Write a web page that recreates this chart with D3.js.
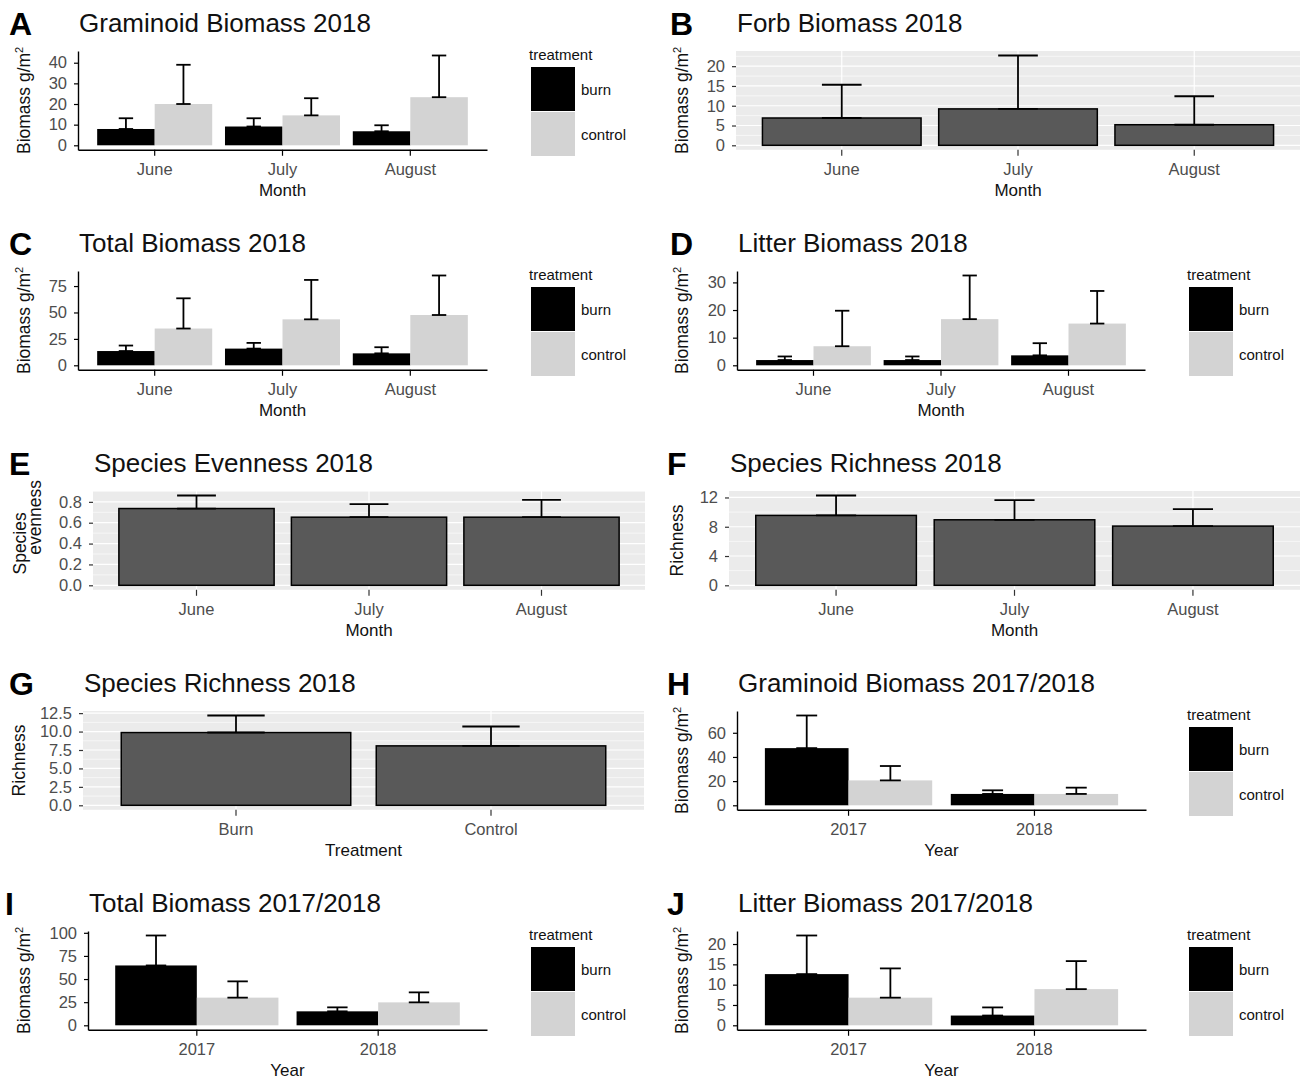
<!DOCTYPE html>
<html lang="en">
<head>
<meta charset="UTF-8" />
<title>Biomass and diversity 2017/2018</title>
<script src="https://d3js.org/d3.v7.min.js"></script>
<style>
  body { margin: 0; background: #fff; }
  svg text { font-family: "Liberation Sans", Arial, sans-serif; }
</style>
</head>
<body>
<svg width="1302" height="1080"></svg>
<script>
// categories
var months = ["June", "July", "August"];
var years = ["2017", "2018"];
var treatCats = ["Burn", "Control"];
var legendNames = ["burn", "control"];

// A - graminoid biomass 2018 (mean, se)
var gramBurn = [7.9, 9.1, 6.8], gramBurnSe = [5.2, 4.0, 2.9];
var gramCtrl = [20.0, 14.5, 23.3], gramCtrlSe = [19.0, 8.3, 20.2];
// B - forb biomass 2018
var forb = [6.9, 9.2, 5.2], forbSe = [8.4, 13.5, 7.2];
// C - total biomass 2018
var totBurn = [13.5, 15.8, 11.3], totBurnSe = [5.2, 5.4, 5.8];
var totCtrl = [34.8, 43.5, 47.6], totCtrlSe = [28.6, 37.3, 37.4];
// D - litter biomass 2018
var litBurn = [1.9, 1.9, 3.6], litBurnSe = [1.3, 1.3, 4.4];
var litCtrl = [6.9, 16.7, 15.1], litCtrlSe = [12.85, 15.8, 11.8];
// E - evenness by month
var even = [0.736, 0.653, 0.653], evenSe = [0.125, 0.125, 0.166];
// F - richness by month
var rich = [9.55, 8.95, 8.09], richSe = [2.72, 2.69, 2.32];
// G - richness by treatment
var richTr = [9.87, 8.06], richTrSe = [2.31, 2.63];
// H - graminoid biomass by year
var gramYrBurn = [47.3, 9.4], gramYrBurnSe = [27.0, 3.0];
var gramYrCtrl = [20.6, 9.4], gramYrCtrlSe = [11.9, 5.2];
// I - total biomass by year
var totYrBurn = [64.7, 15.1], totYrBurnSe = [32.4, 4.3];
var totYrCtrl = [29.9, 24.8], totYrCtrlSe = [17.6, 10.8];
// J - litter biomass by year
var litYrBurn = [12.6, 2.4], litYrBurnSe = [9.5, 2.0];
var litYrCtrl = [6.8, 8.9], litYrCtrlSe = [7.2, 6.9];

// tick values
var ticksA = [0, 10, 20, 30, 40];
var ticksB = [0, 5, 10, 15, 20];
var ticksC = [0, 25, 50, 75];
var ticksD = [0, 10, 20, 30];
var ticksE = [0, 0.2, 0.4, 0.6, 0.8];
var ticksF = [0, 4, 8, 12];
var ticksG = [0, 2.5, 5, 7.5, 10, 12.5];
var ticksH = [0, 20, 40, 60];
var ticksI = [0, 25, 50, 75, 100];
var ticksJ = [0, 5, 10, 15, 20];

var BURN = "#000000", CTRL = "#d3d3d3", DARK = "#595959";
var svg = d3.select("svg");

function panel(p) {
  var g = svg.append("g").attr("transform", "translate(0," + p.row + ")");
  var top = 51, zeroY = 145.3;
  var maxV = d3.max(p.series, function (s) {
    return d3.max(s.mean, function (m, i) { return m + s.se[i]; });
  });
  var y = d3.scaleLinear().domain([0, 1.05 * maxV]).range([zeroY, top]);
  var bottom = y(-0.05 * maxV);
  y.domain([-0.05 * maxV, 1.05 * maxV]).range([bottom, top]);

  var x = d3.scaleBand().domain(p.cats).range([p.left, p.right])
    .paddingInner(0.1).paddingOuter(0.15);
  var sub = d3.scaleBand().domain(d3.range(p.series.length)).range([0, x.bandwidth()]);
  var gray = p.theme == "gray";

  if (gray) {
    g.append("rect").attr("x", p.left).attr("y", top)
      .attr("width", p.right - p.left).attr("height", bottom - top)
      .attr("fill", "#ebebeb");
    var step = p.ticks[1] - p.ticks[0];
    var minors = [];
    for (var v = p.ticks[0] - step / 2; v <= y.domain()[1]; v += step) {
      if (v >= y.domain()[0]) minors.push(v);
    }
    g.selectAll(".minor").data(minors).join("line")
      .attr("x1", p.left).attr("x2", p.right)
      .attr("y1", function (d) { return y(d); }).attr("y2", function (d) { return y(d); })
      .attr("stroke", "#fff").attr("stroke-width", 0.6);
    g.selectAll(".major").data(p.ticks).join("line")
      .attr("x1", p.left).attr("x2", p.right)
      .attr("y1", function (d) { return y(d); }).attr("y2", function (d) { return y(d); })
      .attr("stroke", "#fff").attr("stroke-width", 1.2);
    g.selectAll(".vmajor").data(p.cats).join("line")
      .attr("x1", function (d) { return x(d) + x.bandwidth() / 2; })
      .attr("x2", function (d) { return x(d) + x.bandwidth() / 2; })
      .attr("y1", top).attr("y2", bottom)
      .attr("stroke", "#fff").attr("stroke-width", 1.2);
  }

  // bars
  p.series.forEach(function (s, si) {
    g.append("g").selectAll("rect").data(s.mean).join("rect")
      .attr("x", function (d, i) { return x(p.cats[i]) + sub(si); })
      .attr("y", function (d) { return y(d); })
      .attr("width", sub.bandwidth())
      .attr("height", function (d) { return y(0) - y(d); })
      .attr("fill", s.fill)
      .attr("stroke", gray ? "#000" : "none")
      .attr("stroke-width", gray ? 1.5 : 0);
  });

  // error bars (mean to mean + se)
  var capW = sub.bandwidth() * 0.25;
  p.series.forEach(function (s, si) {
    var eg = g.append("g").attr("stroke", "#000").attr("stroke-width", 1.8).attr("fill", "none");
    s.mean.forEach(function (m, i) {
      var cx = x(p.cats[i]) + sub(si) + sub.bandwidth() / 2;
      var y0 = y(m), y1 = y(m + s.se[i]);
      eg.append("line").attr("x1", cx).attr("x2", cx).attr("y1", y0).attr("y2", y1);
      eg.append("line").attr("x1", cx - capW / 2).attr("x2", cx + capW / 2).attr("y1", y1).attr("y2", y1);
      eg.append("line").attr("x1", cx - capW / 2).attr("x2", cx + capW / 2).attr("y1", y0).attr("y2", y0);
    });
  });

  // axes
  var ya = g.append("g").attr("transform", "translate(" + p.left + ",0)")
    .call(d3.axisLeft(y).tickValues(p.ticks).tickFormat(p.fmt || d3.format("d"))
      .tickSize(4).tickSizeOuter(0).tickPadding(7));
  var xa = g.append("g").attr("transform", "translate(0," + bottom + ")")
    .call(d3.axisBottom(x).tickSize(6).tickSizeOuter(0).tickPadding(8));
  [ya, xa].forEach(function (a) {
    a.selectAll("text").attr("font-size", 16.5).attr("fill", "#4d4d4d")
      .attr("font-family", "Liberation Sans, Arial, sans-serif");
    a.selectAll(".tick line").attr("stroke", gray ? "#333" : "#000").attr("stroke-width", 1.2);
    if (gray) a.select(".domain").remove();
    else a.select(".domain").attr("stroke", "#000").attr("stroke-width", 1.4);
  });

  // axis titles
  g.append("text").attr("x", (p.left + p.right) / 2).attr("y", 196)
    .attr("text-anchor", "middle").attr("font-size", 17).attr("fill", "#111")
    .text(p.xtitle);
  var cy = (top + bottom) / 2;
  p.ytitle.forEach(function (line) {
    var t = g.append("text")
      .attr("transform", "translate(" + line.x + "," + (cy + (line.dy || 0)) + ") rotate(-90)")
      .attr("text-anchor", "middle").attr("font-size", 17.5).attr("fill", "#111")
      .text(line.text);
    if (line.sup) t.append("tspan").attr("dy", -7).attr("font-size", 11).text(line.sup);
  });

  // letter and title
  g.append("text").attr("x", p.letterX).attr("y", 35).attr("font-size", 32)
    .attr("font-weight", "bold").attr("fill", "#000").text(p.letter);
  g.append("text").attr("x", p.left + 1).attr("y", 32).attr("font-size", 26)
    .attr("fill", "#111").text(p.title);

  // legend
  if (p.legend) {
    var lg = g.append("g").attr("transform", "translate(" + p.legend + ",0)");
    lg.append("text").attr("x", 0).attr("y", 60).attr("font-size", 15)
      .attr("fill", "#111").text("treatment");
    p.series.forEach(function (s, si) {
      lg.append("rect").attr("x", 2).attr("y", 67 + si * 45)
        .attr("width", 44).attr("height", 44).attr("fill", s.fill);
      lg.append("text").attr("x", 52).attr("y", 67 + si * 45 + 28)
        .attr("font-size", 15).attr("fill", "#111").text(legendNames[si]);
    });
  }
}

var bioTitle = function (x) { return [{ x: x, text: "Biomass g/m", sup: "2" }]; };
function two(bm, bs, cm, cs) {
  return [{ mean: bm, se: bs, fill: BURN }, { mean: cm, se: cs, fill: CTRL }];
}

panel({ row: 0, left: 78, right: 487, letter: "A", letterX: 9, title: "Graminoid Biomass 2018",
  cats: months, series: two(gramBurn, gramBurnSe, gramCtrl, gramCtrlSe), ticks: ticksA,
  theme: "classic", xtitle: "Month", ytitle: bioTitle(30), legend: 529 });
panel({ row: 0, left: 736, right: 1300, letter: "B", letterX: 670, title: "Forb Biomass 2018",
  cats: months, series: [{ mean: forb, se: forbSe, fill: DARK }], ticks: ticksB,
  theme: "gray", xtitle: "Month", ytitle: bioTitle(688) });
panel({ row: 220, left: 78, right: 487, letter: "C", letterX: 9, title: "Total Biomass 2018",
  cats: months, series: two(totBurn, totBurnSe, totCtrl, totCtrlSe), ticks: ticksC,
  theme: "classic", xtitle: "Month", ytitle: bioTitle(30), legend: 529 });
panel({ row: 220, left: 737, right: 1145, letter: "D", letterX: 670, title: "Litter Biomass 2018",
  cats: months, series: two(litBurn, litBurnSe, litCtrl, litCtrlSe), ticks: ticksD,
  theme: "classic", xtitle: "Month", ytitle: bioTitle(688), legend: 1187 });
panel({ row: 440, left: 93, right: 645, letter: "E", letterX: 9, title: "Species Evenness 2018",
  cats: months, series: [{ mean: even, se: evenSe, fill: DARK }], ticks: ticksE,
  fmt: d3.format(".1f"), theme: "gray", xtitle: "Month",
  ytitle: [{ x: 26, text: "Species", dy: 3 }, { x: 41, text: "evenness", dy: -23 }] });
panel({ row: 440, left: 729, right: 1300, letter: "F", letterX: 667, title: "Species Richness 2018",
  cats: months, series: [{ mean: rich, se: richSe, fill: DARK }], ticks: ticksF,
  theme: "gray", xtitle: "Month", ytitle: [{ x: 683, text: "Richness" }] });
panel({ row: 660, left: 83, right: 644, letter: "G", letterX: 9, title: "Species Richness 2018",
  cats: treatCats, series: [{ mean: richTr, se: richTrSe, fill: DARK }], ticks: ticksG,
  fmt: d3.format(".1f"), theme: "gray", xtitle: "Treatment", ytitle: [{ x: 25, text: "Richness" }] });
panel({ row: 660, left: 737, right: 1146, letter: "H", letterX: 667, title: "Graminoid Biomass 2017/2018",
  cats: years, series: two(gramYrBurn, gramYrBurnSe, gramYrCtrl, gramYrCtrlSe), ticks: ticksH,
  theme: "classic", xtitle: "Year", ytitle: bioTitle(688), legend: 1187 });
panel({ row: 880, left: 88, right: 487, letter: "I", letterX: 5, title: "Total Biomass 2017/2018",
  cats: years, series: two(totYrBurn, totYrBurnSe, totYrCtrl, totYrCtrlSe), ticks: ticksI,
  theme: "classic", xtitle: "Year", ytitle: bioTitle(30), legend: 529 });
panel({ row: 880, left: 737, right: 1146, letter: "J", letterX: 667, title: "Litter Biomass 2017/2018",
  cats: years, series: two(litYrBurn, litYrBurnSe, litYrCtrl, litYrCtrlSe), ticks: ticksJ,
  theme: "classic", xtitle: "Year", ytitle: bioTitle(688), legend: 1187 });
</script>
</body>
</html>
